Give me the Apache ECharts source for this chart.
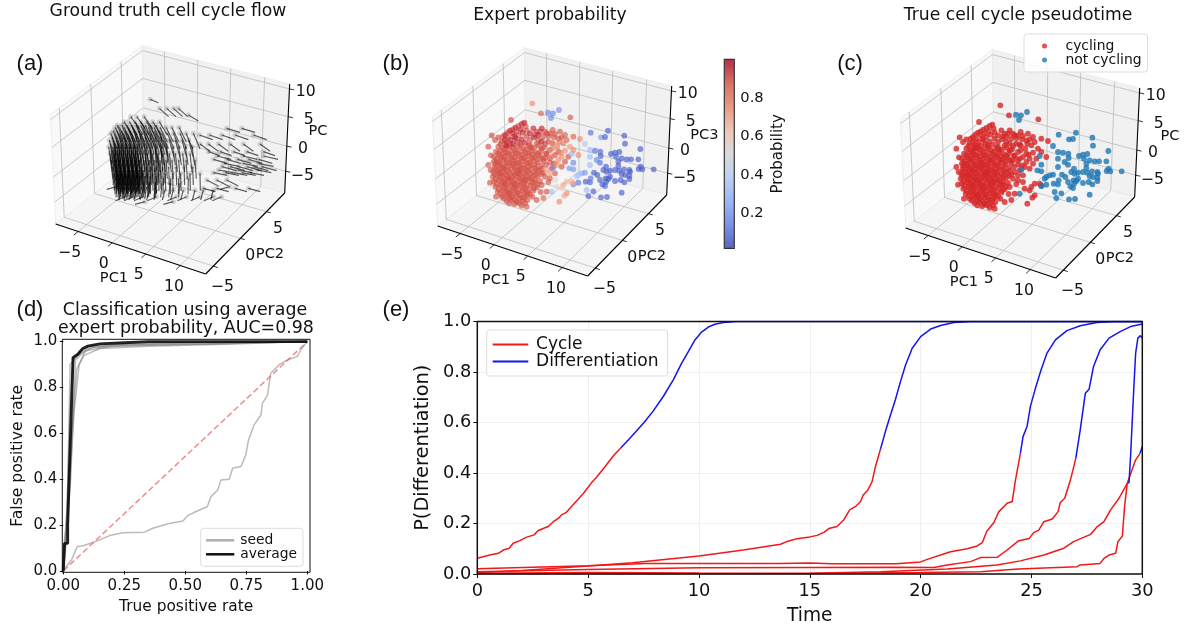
<!DOCTYPE html>
<html><head><meta charset="utf-8">
<style>html,body{margin:0;padding:0;background:#fff}#c{width:1189px;height:628px;filter:blur(0.4px)}</style>
<script src="https://cdn.jsdelivr.net/npm/echarts@6/dist/echarts.min.js"></script>
</head><body><div id="c"></div>
<script>
// ---------- panel (b)/(c) cloud, projected view units: [x, y, probability]
const sparsePoints=[[487,310,.76],[513,340,.86],[534,338,.15],[549,340,.15],[567,330,.18],[543,354,.15],[601,352,.88],[423,360,.9],
[662,398,.1],[714,392,.05],[693,412,.2],[705,411,.05],[763,407,.05],[765,431,.05],[811,447,.05],[645,432,.35],[660,450,.3],[675,452,.1],[691,455,.08],[692,468,.05],[723,462,.05],[735,458,.05],[748,456,.05],[738,470,.05],[755,475,.05],[770,478,.05],[783,478,.05],[805,478,.05],[660,470,.3],[680,480,.15],[690,488,.1],[660,495,.3],[745,485,.05],[745,498,.05],[812,500,.05],[806,507,.05],[817,508,.05],[851,508,.05],[708,500,.05],[700,510,.05],[710,515,.05],[720,512,.05],[735,510,.05],[748,512,.05],[762,508,.05],[778,510,.05],[780,515,.05],[755,522,.05],[765,525,.05],[778,527,.05],[778,537,.05],[707,535,.05],[715,537,.05],[720,530,.05],[708,545,.05],[735,543,.05],[752,540,.05],[763,547,.05],[672,518,.05],[682,525,.05],[647,545,.05],[660,547,.05],[625,548,.1],[610,553,.12],[697,553,.05],[705,558,.05],[670,574,.05],[650,570,.3],[755,578,.05],[655,588,.05],[693,592,.05],[711,591,.05],[545,575,.3],[635,520,.25],[645,518,.2],[625,525,.3],[620,530,.35],[598,505,.2],[610,508,.2],[550,503,.15],[605,462,.3],[610,488,.15],[662,535,.1],[690,540,.05],
[630,417,.76],[610,410,.86],[600,440,.72],[610,450,.76],[580,430,.8],[568,425,.8],[545,428,.76],[590,420,.86],[625,465,.76],[605,545,.68],[590,545,.66],[580,555,.7],[575,565,.6],[610,550,.7],[590,580,.76],[583,587,.7],[568,605,.76],[520,594,.86],[560,560,.56],[530,510,.72],[540,520,.72],[555,540,.56],[575,470,.76],[565,480,.76],[560,495,.76],[545,470,.8],[572,458,.78],[548,445,.78],[562,440,.8],[585,452,.75],[585,405,.87],[570,395,.88],[548,390,.88],[365,406,.9],[355,495,.88],[470,620,.88],[440,607,.88]];
const coreDark=[[405,405],[420,392],[436,383],[455,372],[463,368],[452,388],[428,400],[405,420],[422,420],[433,410],[458,398],[480,400],[455,418],[430,432],[408,436],[437,415],[465,428],[492,412],[490,385],[515,385],[505,405],[515,425]];
const coreMid=[[398,410],[412,398],[428,388],[445,378],[467,380],[440,395],[415,412],[395,425],[410,428],[445,405],[470,392],[470,410],[442,425],[418,438],[450,430],[480,420],[500,395],[525,395],[500,430],[480,435],[385,440],[398,444],[412,438],[428,443],[444,440],[460,445],[476,438],[492,443],[506,437],[522,442],[536,408],[552,412],[566,416],[530,400],[378,455],[392,451],[407,456],[421,452],[436,457],[452,453],[467,458],[483,452],[498,457],[513,453],[528,460],[372,470],[388,466],[402,471],[417,467],[433,472],[448,468],[463,473],[478,467],[494,472],[510,468],[525,474],[382,485],[396,481],[410,486],[426,482],[441,487],[456,483],[471,488],[487,482],[503,487],[520,483],[540,488],[374,500],[390,496],[404,501],[419,497],[434,502],[449,498],[465,503],[480,497],[496,502],[512,498],[528,495],[370,515],[385,511],[399,516],[414,512],[429,517],[444,513],[459,518],[474,512],[490,517],[506,513],[520,518],[368,530],[382,526],[397,531],[412,527],[426,532],[441,528],[457,533],[472,527],[487,532],[503,528],[372,545],[387,541],[402,546],[417,542],[432,547],[447,543],[462,548],[478,542],[494,547],[510,543],[535,546],[376,560],[392,556],[407,561],[422,557],[437,562],[452,558],[467,563],[483,557],[500,562],[383,575],[398,571],[413,576],[428,572],[443,577],[458,573],[473,578],[490,572],[512,576],[395,590],[410,586],[425,591],[440,587],[455,592],[470,586],[487,590],[410,603],[425,600],[440,604],[458,602],[472,600],[455,617],[375,420],[385,412],[520,410],[535,425],[505,420],[540,450],[555,465],[525,432],[372,485],[360,548],[400,505],[430,490],[445,520],[415,535],[435,555],[420,580],[450,510],[465,540],[405,550],[390,520]];
const coreFill=[[391,432],[405,447],[420,431],[436,449],[452,436],[468,449],[484,444],[385,460],[399,462],[414,460],[428,463],[443,461],[459,464],[475,461],[490,463],[505,462],[380,477],[394,474],[409,478],[424,475],[440,479],[455,476],[470,480],[486,475],[502,478],[518,476],[376,491],[388,490],[403,493],[418,490],[433,494],[448,491],[463,495],[479,490],[495,493],[378,507],[392,504],[407,508],[422,505],[437,509],[452,506],[468,510],[483,505],[499,509],[515,506],[374,522],[389,519],[404,523],[419,520],[434,524],[449,521],[465,525],[480,520],[496,524],[513,522],[376,537],[390,534],[405,538],[420,535],[434,539],[450,536],[465,540],[480,535],[495,539],[380,552],[395,549],[410,553],[425,550],[440,554],[455,551],[470,555],[487,550],[503,554],[386,567],[400,564],[415,568],[430,565],[445,569],[460,566],[476,570],[492,565],[392,582],[405,579],[420,584],[435,580],[450,584],[465,580],[480,584],[402,596],[417,595],[432,597],[448,596],[463,594],[418,610],[433,612],[448,610],[465,610],[355,440],[363,466],[362,510],[378,590],[500,600],[530,575],[515,555],[525,530],[545,505],[540,535],[555,520],[575,500],[585,485],[595,470],[515,445],[530,462],[548,430],[565,455],[540,400],[555,402],[575,412],[495,403],[510,395],[540,475],[552,490]];
const coreMidProb=0.89, coreDarkProb=0.96;

// ---------- panel (a) flow: rows: [y, dx, dy, x positions]
const flowRows=[
[298,25,10,[450]],[325,28,25,[478,500,520,535]],[345,30,18,[565]],
[350,26,36,[392,410,432]],[365,24,40,[372,388,405,422,440,458,478]],
[382,22,44,[345,358,372,385,398,412,428,445,462,480,498,515,537]],[385,40,12,[680,725]],
[400,20,46,[332,345,358,370,382,394,408,422,438,452,468,485,502,520,540,558,580]],[405,40,14,[598,628,665,705,760]],
[420,14,52,[328,340,352,364,376,388,400,414,428,442,458,474,490,508,526,546,566]],[432,30,22,[600,625,655,690,730,780]],
[440,8,55,[326,338,350,362,374,386,398,410,424,438,452,468,484,500,518,536,556,576]],[455,35,12,[625,660,700,740,790]],
[460,6,56,[330,342,354,366,378,390,402,414,428,442,458,474,490,508,526,548,570]],
[480,4,56,[334,346,358,370,382,394,406,418,432,448,464,480,498,516,536,558,585]],[478,42,12,[640,680,712,745,775]],
[500,2,55,[338,350,362,374,386,398,410,424,438,452,470,488,506,528,552,578]],[500,45,12,[665,690,715,740,760,785]],
[520,1,52,[342,354,366,378,390,402,414,428,442,458,476,496,518,542,570,600]],[518,42,8,[640,675,700,725,750]],
[535,-1,48,[346,358,370,382,394,406,420,436,452,470,490,512,536,565]],[540,35,18,[620,650,680]],
[550,-4,42,[352,364,376,388,400,414,430,446,466,486,510,540]],[560,-30,8,[350,690]],
[570,-8,30,[365,380,395,410,428,448,470,495,520,550,585,610,640]],
[590,-28,12,[375,400,430,470,530,560,600,640,665]],[605,-30,8,[435,520]],
[468,44,10,[650,728,790]],[490,46,9,[672,728,775]],[510,44,8,[655,712,770]],[565,36,10,[610,650,705,745]]];
const flowHeavyRows=[
[375,18,46,[352,366,380,394,408,422,436,451,468]],[392,16,50,[340,351,364,376,389,402,416,431,447,463,478]],[410,12,54,[336,348,359,372,384,396,407,420,435,450,466,482]],
[430,5,60,[332,344,356,368,380,392,404,418,433,449,465,481,498]],[450,4,62,[336,346,358,370,382,394,406,420,435,450,466,484]],[470,3,62,[340,352,362,374,386,398,410,424,438,454,472]],
[490,1,60,[342,354,366,376,388,400,412,426,442,458,476,494]],[510,1,58,[348,358,370,382,392,404,416,430,446,464,482]],[528,-1,52,[350,362,372,384,396,408,420,434,450,468]],
[545,-2,46,[356,368,380,392,402,416,432,448,466]],[560,-6,36,[362,374,386,398,410,424,440]],[440,3,60,[342,353,364,376,388,400,412]],[480,2,62,[345,356,368,380,392,404,416]],[515,0,56,[352,364,375,386,398,410,424]],[535,-2,48,[358,370,382,394,406,418]],
[500,1,58,[350,361,373,384,396,407,419]],[525,-1,50,[356,367,379,390,402,413]],[460,3,60,[348,360,371,383,395,407]]];

// ---------- panel (d)
const rocFlipped=[[0,0],[.02,.03],[.034,.048],[.057,.106],[.082,.11],[.136,.13],[.19,.154],[.245,.166],[.333,.169],[.367,.186],[.43,.206],[.49,.218],[.51,.241],[.544,.259],[.59,.28],[.605,.324],[.633,.353],[.646,.397],[.68,.4],[.694,.448],[.728,.455],[.748,.506],[.759,.571],[.782,.637],[.81,.68],[.816,.731],[.837,.767],[.85,.862],[.884,.898],[.912,.917],[.959,.935],[.973,.964],[1,1]];
const rocSeedA=[[0,0],[.004,.12],[.016,.25],[.028,.9],[.06,.94],[.1,.97],[.2,.985],[.5,.995],[1,1]];
const rocSeedB=[[0,0],[.01,.1],[.03,.4],[.05,.92],[.08,.95],[.12,.975],[.3,.985],[.6,.99],[1,1]];
const rocSeedC=[[0,0],[.015,.2],[.045,.7],[.065,.9],[.09,.96],[.2,.98],[.4,.985],[.8,.995],[1,1]];
const rocSeedD=[[0,0],[.008,.15],[.035,.6],[.055,.88],[.085,.94],[.15,.97],[.35,.98],[.7,.99],[1,1]];
const rocSeedE=[[0,0],[.012,.18],[.03,.75],[.04,.92],[.07,.96],[.11,.98],[.25,.99],[1,1]];
const rocAverage=[[0,0],[.005,.12],[.018,.12],[.018,.2],[.04,.93],[.06,.945],[.08,.97],[.1,.98],[.15,.99],[.25,.995],[.35,1],[1,1]];
const rocChance=[[0,0],[1,1]];

// ---------- panel (e): [time, P]
const cycle1=[[0,.062],[.57,.075],[.95,.082],[1.17,.095],[1.44,.102],[1.62,.122],[1.92,.132],[2.2,.145],[2.56,.155],[2.75,.172],[3.2,.188],[3.43,.207],[3.65,.22],[3.8,.234],[4,.243],[4.25,.267],[4.48,.289],[4.81,.322],[5.16,.362],[5.38,.383],[5.76,.425],[6.14,.468],[6.48,.5]];
const diff1=[[6.48,.5],[6.81,.531],[7.19,.567],[7.56,.604],[7.94,.646],[8.39,.703],[8.84,.769],[9.22,.835],[9.52,.881],[9.82,.927],[10.12,.958],[10.42,.978],[10.72,.989],[11.1,.996],[11.7,1],[30,1]];
const cycle2=[[0,.005],[2,.014],[5,.032],[7,.045],[10,.071],[12,.095],[13.68,.118],[13.98,.129],[14.43,.14],[15,.147],[15.33,.153],[15.63,.165],[15.86,.18],[16.23,.188],[16.53,.214],[16.8,.254],[17.1,.27],[17.29,.287],[17.41,.313],[17.62,.333],[17.81,.366],[17.96,.425],[18.19,.495]];
const diff2=[[18.19,.495],[18.41,.564],[18.64,.63],[18.86,.69],[19.09,.762],[19.32,.828],[19.62,.894],[20,.94],[20.45,.97],[20.9,.984],[21.5,.996],[22.25,1],[30,1]];
const cycle3=[[0,.021],[5,.033],[7.6,.042],[13.65,.042],[15,.044],[16,.041],[18.9,.041],[20,.048],[20.3,.058],[20.9,.075],[21.35,.088],[22.1,.1],[22.55,.111],[22.78,.124],[22.98,.168],[23.3,.203],[23.53,.247],[23.9,.28],[24.13,.287],[24.28,.373],[24.5,.478]];
const diff3=[[24.5,.478],[24.62,.544],[24.8,.584],[24.95,.663],[25.18,.736],[25.41,.802],[25.7,.875],[26.08,.927],[26.6,.964],[27.2,.983],[27.95,.996],[28.7,1],[30,1]];
const cycle4=[[0,.009],[5,.018],[10,.025],[15,.026],[18.9,.027],[20.6,.026],[21.2,.036],[22.25,.049],[22.7,.065],[23.45,.066],[23.9,.095],[24.43,.132],[24.9,.141],[25.1,.164],[25.33,.174],[25.56,.207],[25.94,.218],[26.2,.247],[26.3,.283],[26.5,.3],[26.76,.373],[27,.458]];
const diff4=[[27,.458],[27.2,.571],[27.43,.716],[27.6,.732],[27.8,.822],[28.1,.888],[28.5,.934],[29,.96],[29.47,.98],[30,.99]];
const cycle5=[[0,.003],[5,.006],[10,.004],[15,.003],[18.2,.009],[21.2,.02],[23.45,.036],[24.5,.052],[25.56,.075],[26.46,.102],[26.9,.128],[27.67,.157],[27.97,.188],[28.27,.207],[28.57,.254],[28.95,.3],[29.32,.359],[29.7,.452],[29.9,.478]];
const diff5=[[29.9,.478],[30,.505]];
const cycle6=[[0,.001],[15,.002],[20,.006],[22.7,.009],[24.4,.02],[27.06,.029],[27.2,.036],[28.1,.042],[28.27,.062],[28.5,.075],[28.8,.082],[28.9,.128],[29.1,.15],[29.2,.267],[29.32,.359],[29.4,.36]];
const diff6=[[29.4,.36],[29.47,.465],[29.62,.742],[29.7,.875],[29.8,.934],[29.92,.944],[30,.934]];
const cycleCurves=[cycle1,cycle2,cycle3,cycle4,cycle5,cycle6];
const diffCurves=[diff1,diff2,diff3,diff4,diff5,diff6];

// ---------- 3D box tick labels
const tickLabelsX=[[245,765,'−5'],[347,798,'0'],[452,830,'5'],[558,866,'10']];
const tickLabelsY=[[703,867,'−5'],[787,775,'0'],[870,693,'5']];
const tickLabelsZ=[[943,535,'−5'],[945,452,'0'],[962,367,'5'],[953,282,'10']];
const xFrac=[.15,.376,.6,.83], yFrac=[.097,.44,.77], zFrac=[.2,.43,.7,.955];

const FONT='"DejaVu Sans"';
const LB=[203,678],LT=[187,350],BT=[463,143],BB=[468,470],RB=[890,585],RT=[905,258],F=[653,828];
const lerp=(a,b,t)=>[a[0]+(b[0]-a[0])*t,a[1]+(b[1]-a[1])*t];

function boxItem(params,api){
  const c=p=>api.coord(p);
  const poly=(pts,fill)=>({type:'polygon',shape:{points:pts.map(c)},style:{fill:fill,stroke:'#e6e6e6',lineWidth:.6}});
  const seg=(a,b,col,w)=>{const p=c(a),q=c(b);return {type:'line',shape:{x1:p[0],y1:p[1],x2:q[0],y2:q[1]},style:{stroke:col,lineWidth:w}}};
  const kids=[poly([LB,LT,BT,BB],'#f9f9f9'),poly([BB,BT,RT,RB],'#f1f1f1'),poly([LB,BB,RB,F],'#f5f5f5')];
  const G='#bdbdbd',W=.8;
  xFrac.forEach(t=>{const a=lerp(LB,F,t),b=lerp(BB,RB,t),d=lerp(BT,RT,t);kids.push(seg(a,b,G,W),seg(b,d,G,W));
    const o=[a[0]-(b[0]-a[0])*.05,a[1]-(b[1]-a[1])*.05];kids.push(seg(a,o,'#000',.8));});
  yFrac.forEach(t=>{const a=lerp(F,RB,t),b=lerp(LB,BB,t),d=lerp(LT,BT,t);kids.push(seg(a,b,G,W),seg(b,d,G,W));
    const o=[a[0]-(b[0]-a[0])*.03,a[1]-(b[1]-a[1])*.03];kids.push(seg(a,o,'#000',.8));});
  zFrac.forEach(t=>{const a=lerp(RB,RT,t),b=lerp(BB,BT,t),d=lerp(LB,LT,t);kids.push(seg(a,b,G,W),seg(b,d,G,W));
    const o=[a[0]+14,a[1]+3];kids.push(seg(a,o,'#000',.8));});
  kids.push(seg(LB,F,'#000',1.1),seg(F,RB,'#000',1.1),seg(RB,RT,'#000',1.1));
  return {type:'group',children:kids};
}

const grids=[],xAxes=[],yAxes=[],series=[];
// a view grid kept inside the canvas; offX/offY shift the shared box units onto this panel
function viewGrid(left,top,width,offX,offY){
  const i=grids.length;
  const x0=(left-offX-370)*3,y0=(top-offY)*3;
  grids.push({left:left,top:top,width:width,height:300,show:false});
  xAxes.push({gridIndex:i,type:'value',min:x0,max:x0+width*3,show:false});
  yAxes.push({gridIndex:i,type:'value',min:y0,max:y0+900,inverse:true,show:false});
  return i;
}
function labelSeries(i,data,size){
  series.push({type:'custom',coordinateSystem:'cartesian2d',xAxisIndex:i,yAxisIndex:i,data:data,silent:true,z:6,clip:false,
    renderItem:(p,api)=>{const a=api.coord([data[p.dataIndex][0],data[p.dataIndex][1]]);
      return {type:'text',x:a[0],y:a[1],style:{text:data[p.dataIndex][2],fontFamily:FONT,fontSize:size,fill:'#111',textAlign:'center',textVerticalAlign:'middle'}}}});
}
function boxSeries(i,zName,zx,zy){
  series.push({type:'custom',coordinateSystem:'cartesian2d',xAxisIndex:i,yAxisIndex:i,data:[[500,500]],renderItem:boxItem,silent:true,z:1,clip:false});
  labelSeries(i,[...tickLabelsX,...tickLabelsY,...tickLabelsZ],15.7);
  labelSeries(i,[[378,842,'PC1'],[846,770,'PC2'],[zx,zy,zName]],14.6);
}

// (a)
const ia=viewGrid(0,0,340,-382,-2), iaf=viewGrid(0,0,420,-370,0);
boxSeries(ia,'PC',990,400);
const flow=[];
flowRows.forEach(r=>r[3].forEach(x=>flow.push([x,r[0],r[1],r[2]])));
flowHeavyRows.forEach(r=>r[3].forEach(x=>flow.push([x,r[0],r[1],r[2]])));
series.push({type:'scatter',xAxisIndex:iaf,yAxisIndex:iaf,data:flow.map(f=>[f[0],f[1]]),symbolSize:5,itemStyle:{color:'rgba(110,110,110,.32)'},silent:true,z:3});
series.push({type:'custom',coordinateSystem:'cartesian2d',xAxisIndex:iaf,yAxisIndex:iaf,data:flow,silent:true,z:4,clip:false,
  renderItem:(p,api)=>{const a=api.coord([api.value(0),api.value(1)]),b=api.coord([api.value(0)+api.value(2),api.value(1)+api.value(3)]);
    return {type:'line',shape:{x1:a[0],y1:a[1],x2:b[0],y2:b[1]},style:{stroke:'rgba(0,0,0,.62)',lineWidth:1.15}}}});

// (b)
const ib=viewGrid(370,0,420,0,0);
boxSeries(ib,'PC3',1003,405);
const cloud=[...coreMid.map(p=>[p[0],p[1],coreMidProb]),...coreFill.map(p=>[p[0],p[1],coreMidProb]),...coreDark.map(p=>[p[0],p[1],coreDarkProb]),...sparsePoints];
const bSeriesIndex=series.length;
series.push({type:'scatter',xAxisIndex:ib,yAxisIndex:ib,data:cloud,symbolSize:5.8,silent:true,z:5,encode:{x:0,y:1}});

// (c)
const ic=viewGrid(838,2,351,468,2);
boxSeries(ic,'PC',996,403);
series.push({name:'cycling',type:'scatter',xAxisIndex:ic,yAxisIndex:ic,data:cloud.filter(p=>p[2]>=.5),symbolSize:5.8,itemStyle:{color:'#d62728',opacity:.8},silent:true,z:5});
series.push({name:'not cycling',type:'scatter',xAxisIndex:ic,yAxisIndex:ic,data:cloud.filter(p=>p[2]<.5),symbolSize:5.8,itemStyle:{color:'#1f77b4',opacity:.8},silent:true,z:5});

// colour bar axis
const icb=grids.length;
grids.push({left:724.3,top:59.3,width:10,height:189,show:true,backgroundColor:'transparent',borderColor:'#333',borderWidth:1.2,z:5});
xAxes.push({gridIndex:icb,type:'value',min:0,max:1,show:false});
yAxes.push({gridIndex:icb,type:'value',min:.017,max:1.003,position:'right',splitLine:{show:false},axisLine:{show:false},
  axisTick:{show:true,length:4,lineStyle:{color:'#222'},customValues:[.2,.4,.6,.8]},
  axisLabel:{color:'#111',fontFamily:FONT,fontSize:14.7,margin:6,customValues:[.2,.4,.6,.8],formatter:v=>v.toFixed(1)},
  name:'Probability',nameLocation:'middle',nameRotate:90,nameGap:36,nameTextStyle:{color:'#111',fontFamily:FONT,fontSize:15}});

function frameSeries(i,x0,x1,y0,y1,w){
  series.push({type:'line',xAxisIndex:i,yAxisIndex:i,data:[[x0,y0],[x1,y0],[x1,y1],[x0,y1],[x0,y0]],symbol:'none',clip:false,lineStyle:{color:'#111',width:w},silent:true,z:7});
}
// (d)
const id=grids.length;
grids.push({left:62.3,top:339.3,width:247.7,height:233,show:false});
xAxes.push({gridIndex:id,type:'value',min:-.004,max:1.011,splitLine:{show:false},axisLine:{show:false},
  axisTick:{length:3.5,lineStyle:{color:'#111'},customValues:[0,.25,.5,.75,1]},
  axisLabel:{color:'#111',fontFamily:FONT,fontSize:15,margin:6,customValues:[0,.25,.5,.75,1],formatter:v=>v.toFixed(2)},
  name:'True positive rate',nameLocation:'middle',nameGap:27,nameTextStyle:{color:'#111',fontFamily:FONT,fontSize:15.4}});
yAxes.push({gridIndex:id,type:'value',min:-.006,max:1.01,splitLine:{show:false},axisLine:{show:false},
  axisTick:{length:3.5,lineStyle:{color:'#111'},customValues:[0,.2,.4,.6,.8,1]},
  axisLabel:{color:'#111',fontFamily:FONT,fontSize:15,margin:5,customValues:[0,.2,.4,.6,.8,1],formatter:v=>v.toFixed(1)},
  name:'False positive rate',nameLocation:'middle',nameGap:36,nameTextStyle:{color:'#111',fontFamily:FONT,fontSize:15.6}});
const seedLine={color:'rgba(120,120,120,.5)',width:1.5};
[rocFlipped,rocSeedA,rocSeedB,rocSeedC,rocSeedD,rocSeedE].forEach(d=>series.push({name:'seed',type:'line',xAxisIndex:id,yAxisIndex:id,data:d,symbol:'none',color:'rgba(120,120,120,.6)',lineStyle:seedLine,silent:true,z:3}));
series.push({type:'line',xAxisIndex:id,yAxisIndex:id,data:rocChance,symbol:'none',lineStyle:{color:'rgba(235,90,90,.7)',width:1.5,type:[6,3]},silent:true,z:4});
series.push({name:'average',type:'line',xAxisIndex:id,yAxisIndex:id,data:rocAverage,symbol:'none',color:'#111',lineStyle:{color:'rgba(10,10,10,.9)',width:2.9},silent:true,z:5});
frameSeries(id,-.004,1.011,-.006,1.01,1);

// (e)
const ie=grids.length;
grids.push({left:477.3,top:321.5,width:665,height:252.5,show:false});
xAxes.push({gridIndex:ie,type:'value',min:0,max:30,interval:5,splitLine:{show:true,lineStyle:{color:'#efefef',width:1}},axisLine:{show:false},
  axisTick:{length:4,lineStyle:{color:'#111'}},axisLabel:{color:'#111',fontFamily:FONT,fontSize:17.8,margin:8},
  name:'Time',nameLocation:'middle',nameGap:33,nameTextStyle:{color:'#111',fontFamily:FONT,fontSize:18.6}});
yAxes.push({gridIndex:ie,type:'value',min:0,max:1,interval:.2,splitLine:{show:true,lineStyle:{color:'#efefef',width:1}},axisLine:{show:false},
  axisTick:{length:4,lineStyle:{color:'#111'}},axisLabel:{color:'#111',fontFamily:FONT,fontSize:17.8,margin:6,formatter:v=>v.toFixed(1)},
  name:'P(Differentiation)',nameLocation:'middle',nameGap:35,nameTextStyle:{color:'#111',fontFamily:FONT,fontSize:19.4}});
cycleCurves.forEach(d=>series.push({name:'Cycle',type:'line',xAxisIndex:ie,yAxisIndex:ie,data:d,symbol:'none',color:'#f01818',lineStyle:{color:'#f01818',width:1.5},silent:true,z:3}));
diffCurves.forEach(d=>series.push({name:'Differentiation',type:'line',xAxisIndex:ie,yAxisIndex:ie,data:d,symbol:'none',color:'#1414ee',lineStyle:{color:'#1414ee',width:1.5},silent:true,z:3}));
frameSeries(ie,0,30,0,1,1.5);

const text=(x,y,t,size,fam)=>({type:'text',x:x,y:y,z:10,style:{text:t,fontSize:size,fontFamily:fam||FONT,fill:'#111',textAlign:'center',textVerticalAlign:'middle'},silent:true});
const chart=echarts.init(document.getElementById('c'),null,{renderer:'canvas'});
chart.setOption({animation:false,backgroundColor:'#fff',
  grid:grids,xAxis:xAxes,yAxis:yAxes,series:series,
  visualMap:[{type:'continuous',seriesIndex:bSeriesIndex,dimension:2,min:.017,max:1,left:724.3,top:59.3,itemWidth:10,itemHeight:189,padding:0,text:null,calculable:false,hoverLink:false,z:1,
    inRange:{color:['rgba(59,76,192,.8)','rgba(98,130,234,.8)','rgba(141,176,254,.8)','rgba(184,208,249,.8)','rgba(221,220,220,.8)','rgba(245,196,172,.8)','rgba(240,138,108,.8)','rgba(217,88,71,.8)','rgba(180,4,38,.8)']}}],
  legend:[
   {data:['cycling','not cycling'],left:1024,top:34,orient:'vertical',icon:'circle',itemWidth:14,itemHeight:5,itemGap:0,padding:[5,6,5,18],backgroundColor:'rgba(255,255,255,.85)',borderColor:'#ddd',borderWidth:1,borderRadius:3,textStyle:{fontFamily:FONT,fontSize:13.9,lineHeight:13.3,color:'#111',padding:[0,0,0,9]},selectedMode:false,z:8},
   {data:['seed','average'],left:200.7,top:528.3,orient:'vertical',icon:'rect',itemWidth:28.3,itemHeight:2.5,itemGap:0,padding:[5,6,5,5.3],backgroundColor:'rgba(255,255,255,.85)',borderColor:'#ddd',borderWidth:1,borderRadius:3,textStyle:{fontFamily:FONT,fontSize:13.85,lineHeight:13.3,color:'#111',padding:[0,0,0,1]},selectedMode:false,z:8},
   {data:['Cycle','Differentiation'],left:486.7,top:330,orient:'vertical',icon:'rect',itemWidth:35.6,itemHeight:2,itemGap:0,padding:[6,9,6,6],backgroundColor:'rgba(255,255,255,.85)',borderColor:'#ddd',borderWidth:1,borderRadius:3,textStyle:{fontFamily:FONT,fontSize:17.06,lineHeight:17,color:'#111',padding:[0,0,0,2.7]},selectedMode:false,z:8}],
  graphic:[
   text(168,12,'Ground truth cell cycle flow',17.2),
   text(550,16,'Expert probability',17.2),
   text(1018,16,'True cell cycle pseudotime',17.2),
   text(185,310,'Classification using average',17.4),
   text(186,328,'expert probability, AUC=0.98',17.4),
   text(30,64,'(a)',22,'"Liberation Sans"'),
   text(396,64,'(b)',22,'"Liberation Sans"'),
   text(850,64,'(c)',22,'"Liberation Sans"'),
   text(30,310,'(d)',22,'"Liberation Sans"'),
   text(396,310,'(e)',22,'"Liberation Sans"')]
});
</script></body></html>
